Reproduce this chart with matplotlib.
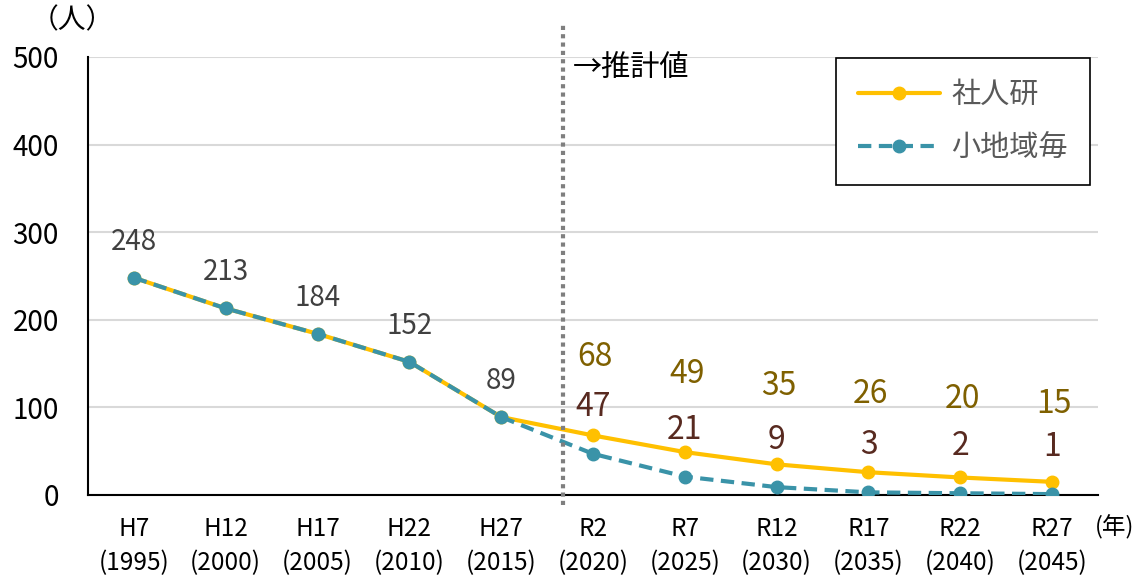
import matplotlib
matplotlib.use("Agg")
import matplotlib.pyplot as plt
from matplotlib.lines import Line2D
from matplotlib.transforms import blended_transform_factory

plt.rcParams['font.family'] = ['Noto Sans CJK JP', 'DejaVu Sans']

# Data
periods = ["H7", "H12", "H17", "H22", "H27", "R2", "R7", "R12", "R17", "R22", "R27"]
years = ["1995", "2000", "2005", "2010", "2015", "2020", "2025", "2030", "2035", "2040", "2045"]
ipss = [248, 213, 184, 152, 89, 68, 49, 35, 26, 20, 15]          # 社人研
small_area = [248, 213, 184, 152, 89, 47, 21, 9, 3, 2, 1]         # 小地域毎
n_actual = 5                                                      # H7–H27 are actual values
series_names = ["社人研", "小地域毎"]
y_ticks = [0, 100, 200, 300, 400, 500]

GOLD = "#FFC000"
TEAL = "#3A93A8"
GRID = "#D9D9D9"

W, H = 1136, 580
fig = plt.figure(figsize=(W / 100, H / 100), dpi=100)
ax = fig.add_axes([88 / W, 1 - 495 / H, (1098 - 88) / W, (495 - 57) / H])

x = list(range(len(periods)))

ax.plot(x, ipss, color=GOLD, lw=3.0, marker="o", ms=9, zorder=3,
        label=series_names[0], solid_capstyle="round")
ax.plot(x, small_area, color=TEAL, lw=3.0, marker="o", ms=9, zorder=4,
        linestyle=(0, (3.2, 1.8)), label=series_names[1])

ax.set_xlim(-0.5, len(periods) - 0.5)
ax.set_ylim(0, 500)
ax.set_yticks(y_ticks)
ax.set_yticklabels([str(v) for v in y_ticks], fontsize=20, color="#000000")
ax.set_xticks(x)
ax.set_xticklabels([f"{p}\n({y})" for p, y in zip(periods, years)],
                   fontsize=17.5, color="#000000", linespacing=1.4)
ax.tick_params(axis="both", length=0)
ax.tick_params(axis="y", pad=21)
ax.tick_params(axis="x", pad=15)

ax.yaxis.grid(True, color=GRID, lw=1.5)
ax.set_axisbelow(True)
for s in ("top", "right"):
    ax.spines[s].set_visible(False)
ax.spines["left"].set_color("#000000")
ax.spines["left"].set_linewidth(1.5)
ax.spines["bottom"].set_color("#000000")
ax.spines["bottom"].set_linewidth(1.5)

# Value labels
for i in range(n_actual):
    ax.annotate(str(ipss[i]), (x[i], ipss[i]), xytext=(0, 36),
                textcoords="offset pixels", ha="center", va="center",
                fontsize=20, color="#404040")
for i in range(n_actual, len(periods)):
    ax.annotate(str(ipss[i]), (x[i], ipss[i]), xytext=(2, 78),
                textcoords="offset pixels", ha="center", va="center",
                fontsize=23, color="#7F6000")
    ax.annotate(str(small_area[i]), (x[i], small_area[i]), xytext=(0, 47),
                textcoords="offset pixels", ha="center", va="center",
                fontsize=23, color="#582A20")

# Boundary between actual and projected values
xd = 4.675
fig.add_artist(Line2D([xd, xd], [1 - 505 / H, 1 - 22 / H], color="#7F7F7F",
                      lw=3, linestyle=(0, (1, 1)),
                      transform=blended_transform_factory(ax.transData,
                                                          fig.transFigure)))
fig.text(573 / W, 1 - 68 / H, "→推計値", fontsize=21, color="#000000",
         ha="left", va="center")

# Axis unit labels
fig.text(72 / W, 1 - 20 / H, "（人）", fontsize=20, color="#000000",
         ha="center", va="center")
fig.text(1134 / W, 1 - 527 / H, "(年)", fontsize=17, color="#000000",
         ha="right", va="center")

leg = ax.legend(loc="upper left", bbox_to_anchor=(836 / W, 1 - 58 / H),
                bbox_transform=fig.transFigure, borderaxespad=0,
                fontsize=21, frameon=True, fancybox=False, framealpha=1,
                edgecolor="#000000", handlelength=2.8, handletextpad=0.4,
                labelspacing=0.8, borderpad=0.75)
leg.get_frame().set_linewidth(1.2)
for t in leg.get_texts():
    t.set_color("#595959")

fig.savefig("out.png", dpi=100)
